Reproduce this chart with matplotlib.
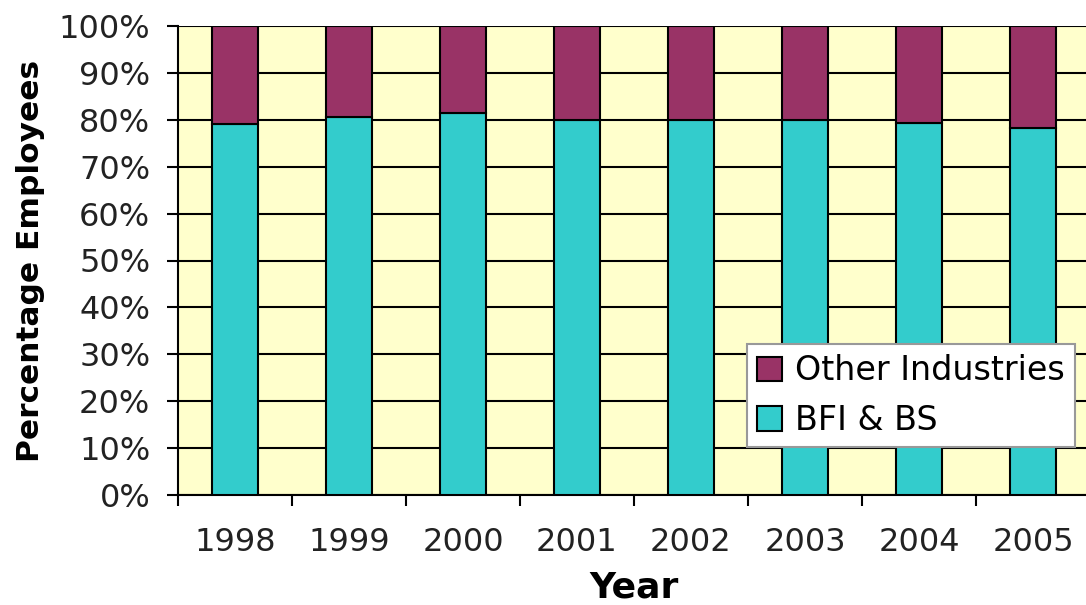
import matplotlib
matplotlib.use("Agg")
import matplotlib.pyplot as plt
import numpy as np

years = ["1998", "1999", "2000", "2001", "2002", "2003", "2004", "2005"]
bfi_bs = [79.2, 80.5, 81.4, 80.0, 80.0, 80.0, 79.3, 78.3]
other = [100 - v for v in bfi_bs]
y_ticks = list(range(0, 101, 10))

plt.rcParams['font.family'] = ['DejaVu Sans']

fig = plt.figure(figsize=(10.86, 6.05), dpi=100)
ax = fig.add_axes([178 / 1086, 110 / 605, 912 / 1086, 469 / 605])
ax.set_facecolor('#FFFFCC')

x = np.arange(len(years))
w = 0.40
ax.bar(x, bfi_bs, width=w, color='#33CCCC', edgecolor='black', linewidth=1.5,
       label='BFI & BS', zorder=3)
ax.bar(x, other, width=w, bottom=bfi_bs, color='#993366', edgecolor='black',
       linewidth=1.5, label='Other Industries', zorder=3)

ax.set_xlim(-0.5, len(years) - 0.5)
ax.set_ylim(0, 100)
ax.set_yticks(y_ticks)
ax.set_yticklabels([f"{t}%" for t in y_ticks])
ax.yaxis.grid(True, color='black', linewidth=1.5, zorder=1)
ax.set_axisbelow(True)

# category boundaries as major ticks, names centred on minor ticks
ax.set_xticks(np.arange(-0.5, len(years), 1.0))
ax.set_xticklabels([])
ax.set_xticks(x, minor=True)
ax.set_xticklabels(years, minor=True)
ax.tick_params(axis='x', which='major', length=8, width=1.5, direction='out')
ax.tick_params(axis='x', which='minor', length=0, pad=23, labelsize=23,
               labelcolor='#222222')
ax.tick_params(axis='y', length=8, width=1.5, direction='out', labelsize=23,
               pad=12, labelcolor='#222222')

for s in ['top', 'right']:
    ax.spines[s].set_visible(False)
ax.spines['left'].set_linewidth(1.5)
ax.spines['bottom'].set_linewidth(1.5)

ax.set_xlabel('Year', fontsize=26, fontweight='bold', labelpad=9)
ax.set_ylabel('Percentage Employees', fontsize=22.5, fontweight='bold')
ax.yaxis.set_label_coords(-0.146, 0.5)

handles, labels = ax.get_legend_handles_labels()
leg = ax.legend(handles[::-1], labels[::-1], loc='lower right',
                bbox_to_anchor=(0.9836, 0.1023), fontsize=24,
                frameon=True, fancybox=False, framealpha=1,
                edgecolor='#999999', handlelength=0.75, handleheight=0.75,
                handletextpad=0.4, borderpad=0.3, labelspacing=0.5,
                borderaxespad=0)
leg.get_frame().set_linewidth(1.5)

fig.savefig('out.png', dpi=100, facecolor='white')
